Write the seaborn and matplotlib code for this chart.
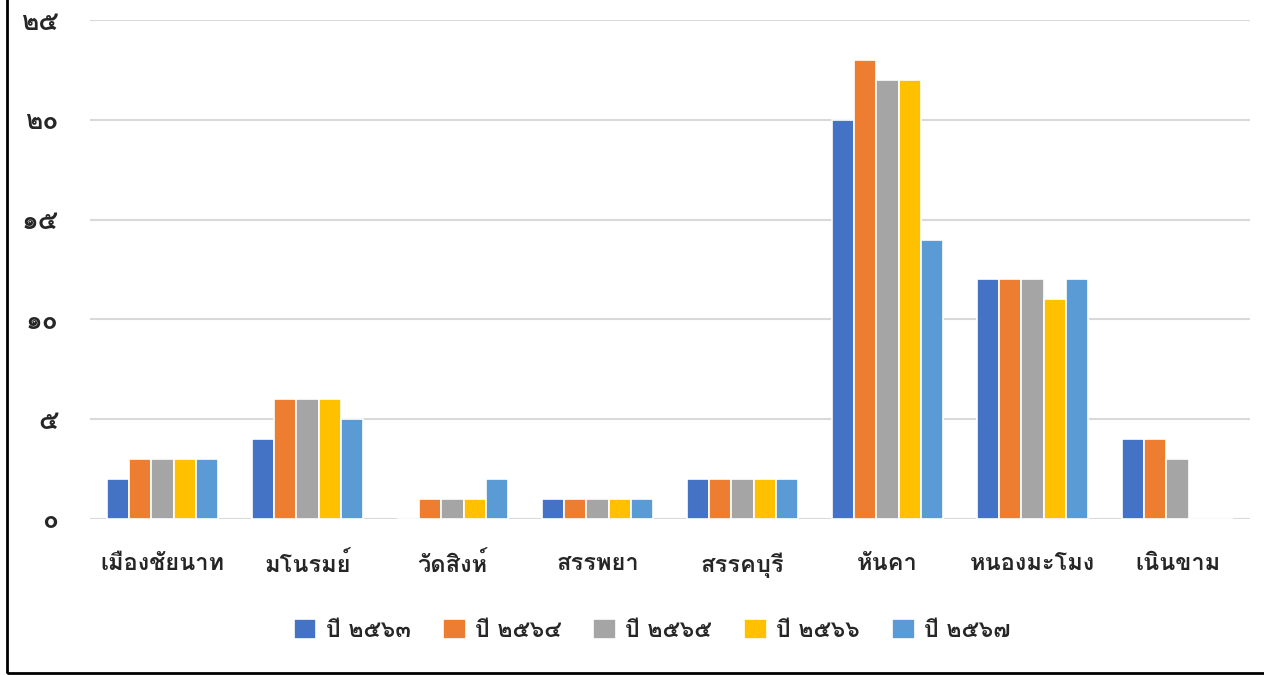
import matplotlib
matplotlib.use("Agg")
import matplotlib.pyplot as plt
from matplotlib import font_manager
from matplotlib.patches import Rectangle
from fontTools.ttLib import TTFont
import pandas as pd
import seaborn as sns

districts = ["เมืองชัยนาท", "มโนรมย์", "วัดสิงห์", "สรรพยา", "สรรคบุรี", "หันคา", "หนองมะโมง", "เนินขาม"]
years = ["ปี ๒๕๖๓", "ปี ๒๕๖๔", "ปี ๒๕๖๕", "ปี ๒๕๖๖", "ปี ๒๕๖๗"]
y2563 = [2, 4, 0, 1, 2, 20, 12, 4]
y2564 = [3, 6, 1, 1, 2, 23, 12, 4]
y2565 = [3, 6, 1, 1, 2, 22, 12, 3]
y2566 = [3, 6, 1, 1, 2, 22, 11, 0]
y2567 = [3, 5, 2, 1, 2, 14, 12, 0]
colors = ["#4472C4", "#ED7D31", "#A5A5A5", "#FFC000", "#5B9BD5"]
ytick_vals = [0, 5, 10, 15, 20, 25]
ytick_labels = ["๐", "๕", "๑๐", "๑๕", "๒๐", "๒๕"]

# find a font that has Thai glyphs
thai_font = None
for f in font_manager.fontManager.ttflist:
    try:
        tt = TTFont(f.fname, fontNumber=0, lazy=True)
        if 0x0E01 in tt.getBestCmap():
            thai_font = f.name
            break
    except Exception:
        pass

sns.set_style("white")
families = ([thai_font] if thai_font else []) + ["DejaVu Sans"]
plt.rcParams["font.family"] = families

rows = []
for yr, vals in zip(years, [y2563, y2564, y2565, y2566, y2567]):
    for d, v in zip(districts, vals):
        rows.append({"district": d, "year": yr, "value": v})
df = pd.DataFrame(rows)

fig = plt.figure(figsize=(12.64, 6.75), dpi=100)
ax = fig.add_axes([90 / 1264, 1 - 519 / 675, 1160 / 1264, 499 / 675])
sns.barplot(data=df, x="district", y="value", hue="year", palette=colors, saturation=1,
            width=0.76, edgecolor="white", linewidth=1.2, ax=ax, legend=True)

ax.set_ylim(0, 25)
ax.set_yticks(ytick_vals)
ax.set_yticklabels(ytick_labels, fontsize=19, fontweight="bold")
ax.yaxis.grid(True, color="#D9D9D9", linewidth=1.5)
ax.set_axisbelow(True)
ax.tick_params(axis="both", length=0)
ax.tick_params(axis="y", pad=23)
ax.tick_params(axis="x", pad=24)
for lbl in ax.get_xticklabels():
    lbl.set_fontsize(17)
    lbl.set_fontweight("bold")
sns.despine(ax=ax, left=True, bottom=True)
ax.set_xlabel("")
ax.set_ylabel("")

ax.get_legend().remove()
handles, labels = ax.get_legend_handles_labels()
fig.legend(handles, labels, loc="center", bbox_to_anchor=(652 / 1264, 1 - 630 / 675),
           ncol=5, frameon=False, handlelength=1.0, handleheight=1.0,
           handletextpad=0.4, columnspacing=1.4,
           prop={"size": 16.5, "weight": "bold"})

fig.patches.append(Rectangle((7 / 1264, 2 / 675), 1.1, 1.1, transform=fig.transFigure,
                             fill=False, edgecolor="black", linewidth=2))

fig.savefig("out.png", dpi=100)
